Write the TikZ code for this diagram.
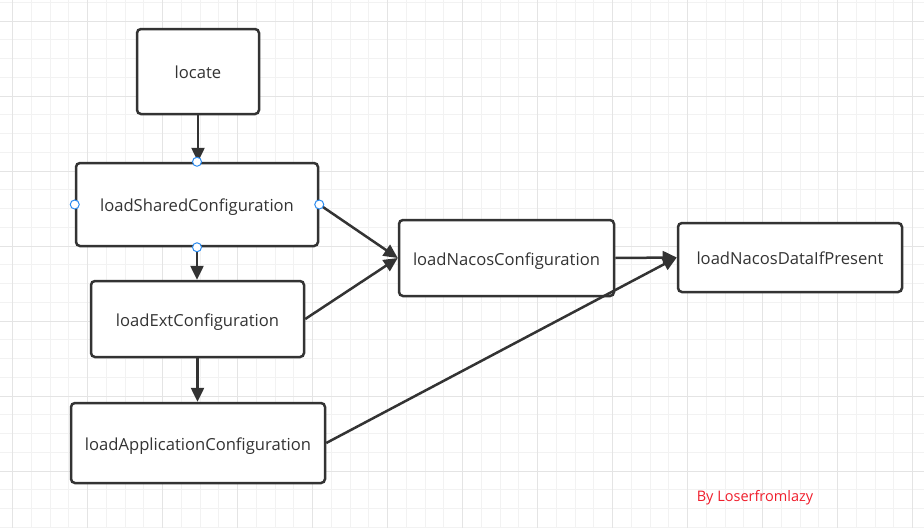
\documentclass[tikz,border=0pt]{standalone}
\usepackage{fontspec}
\setmainfont{Open Sans}
\usetikzlibrary{arrows.meta}
\definecolor{ink}{HTML}{333333}
\definecolor{gridminor}{HTML}{F2F2F2}
\definecolor{gridmajor}{HTML}{E4E4E4}
\definecolor{handle}{HTML}{2D8CF0}
\definecolor{signred}{HTML}{F01E2C}
\tikzset{stepbox/.style={draw=ink,line width=2.5pt,rounded corners=4pt,fill=white,text=ink,text height=14pt,text depth=0pt,font=\fontsize{16.6}{20}\selectfont}}
\tikzset{>={Triangle[length=14pt,width=13pt]}}
\tikzset{flow/.style={draw=ink,line width=2.5pt,->}}
\tikzset{hdl/.style={draw=handle,fill=white,line width=1pt}}

\begin{document}
\begin{tikzpicture}[x=1pt,y=-1pt]
\fill[white](0,0)rectangle(924,528);\useasboundingbox(0,0)rectangle(924,528);
% grid
\foreach \x in {12.5,31.25,...,924}\draw[gridminor,line width=1pt](\x,0)--(\x,528);
\foreach \y in {2.25,21,...,528}\draw[gridminor,line width=1pt](0,\y)--(924,\y);
\foreach \x in {12.5,87.5,...,924}\draw[gridmajor,line width=1pt](\x,0)--(\x,528);
\foreach \y in {21,96,...,528}\draw[gridmajor,line width=1pt](0,\y)--(924,\y);
% steps
\node(locate)[stepbox,minimum width=122,minimum height=85]at(198,71.5){locate};
\node(shared)[stepbox,minimum width=242,minimum height=83]at(197,204.5){loadSharedConfiguration};
\node(ext)[stepbox,minimum width=213,minimum height=76]at(197.5,319){loadExtConfiguration};
\node(app)[stepbox,minimum width=254,minimum height=80]at(198,443){loadApplicationConfiguration};
\node(nacos)[stepbox,minimum width=215,minimum height=76]at(506.5,258){loadNacosConfiguration};
\node(data)[stepbox,minimum width=224,minimum height=69]at(790,257.5){loadNacosDataIfPresent};
\draw[flow](locate.south)--(locate.south|-shared.north);
\draw[flow](shared.south)--(shared.south|-ext.north);
\draw[flow](ext.south)--(ext.south|-app.north);
\draw[flow](shared.east)--(nacos.west);\draw[flow](ext.east)--(nacos.west);
\draw[flow](nacos.east)--(data.west);\draw[flow](app.east)--(data.west);
\foreach \a in {north,south,east,west}\draw[hdl](shared.\a)circle(4.5);
\node(sign)[text=signred,font=\fontsize{14.5}{17}\selectfont]at(755,498){By Loserfromlazy};
\end{tikzpicture}
\end{document}
